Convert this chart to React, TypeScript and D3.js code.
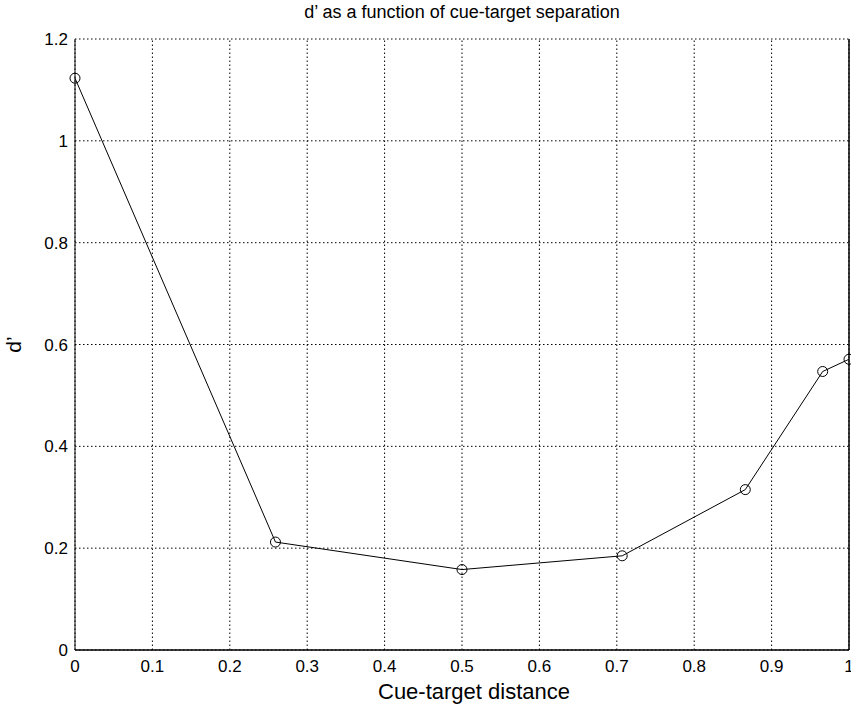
import React, { useEffect, useRef } from "react";
import * as d3 from "d3";

const xValues = [0, 0.259, 0.5, 0.707, 0.866, 0.966, 1];
const yValues = [1.123, 0.212, 0.158, 0.185, 0.315, 0.547, 0.571];
const xTicks = [0, 0.1, 0.2, 0.3, 0.4, 0.5, 0.6, 0.7, 0.8, 0.9, 1];
const yTicks = [0, 0.2, 0.4, 0.6, 0.8, 1, 1.2];
const titleText = "d\u2019 as a function of cue-target separation";
const xLabelText = "Cue-target distance";
const yLabelText = "d\u2019";

export default function App() {
  const ref = useRef<SVGSVGElement>(null);
  useEffect(() => {
    const svg = d3.select(ref.current);
    svg.selectAll("*").remove();
    const W = 851, H = 708;
    const m = { left: 75, right: 2, top: 39, bottom: 58 };
    const x = d3.scaleLinear().domain([0, 1]).range([m.left, W - m.right]);
    const y = d3.scaleLinear().domain([0, 1.2]).range([H - m.bottom, m.top]);
    const font = "'Liberation Sans', Arial, Helvetica, sans-serif";

    svg.append("rect").attr("width", W).attr("height", H).attr("fill", "#fff");

    const g = svg.append("g");
    // grid
    g.selectAll(".vg").data(xTicks).join("line")
      .attr("x1", d => x(d)).attr("x2", d => x(d))
      .attr("y1", y(0)).attr("y2", y(1.2))
      .attr("stroke", "#000").attr("stroke-width", 1)
      .attr("stroke-dasharray", "1.5,2.5");
    g.selectAll(".hg").data(yTicks).join("line")
      .attr("y1", d => y(d)).attr("y2", d => y(d))
      .attr("x1", x(0)).attr("x2", x(1))
      .attr("stroke", "#000").attr("stroke-width", 1)
      .attr("stroke-dasharray", "1.5,2.5");

    // axes box
    g.append("line").attr("x1", x(0)).attr("x2", x(1)).attr("y1", y(0)).attr("y2", y(0))
      .attr("stroke", "#000").attr("stroke-width", 1.5);
    g.append("line").attr("x1", x(0)).attr("x2", x(0)).attr("y1", y(0)).attr("y2", y(1.2))
      .attr("stroke", "#000").attr("stroke-width", 1);
    g.append("line").attr("x1", x(1)).attr("x2", x(1)).attr("y1", y(0)).attr("y2", y(1.2))
      .attr("stroke", "#000").attr("stroke-width", 1.5);

    // tick labels
    g.selectAll(".xt").data(xTicks).join("text")
      .attr("x", d => x(d)).attr("y", y(0) + 22)
      .attr("text-anchor", "middle")
      .attr("font-family", font).attr("font-size", 17)
      .text(d => d3.format("")(d));
    g.selectAll(".yt").data(yTicks).join("text")
      .attr("x", x(0) - 7).attr("y", d => y(d) + 6)
      .attr("text-anchor", "end")
      .attr("font-family", font).attr("font-size", 17)
      .text(d => d3.format("")(d));

    // line and markers
    const data = xValues.map((v, i) => [v, yValues[i]] as [number, number]);
    const line = d3.line<[number, number]>().x(d => x(d[0])).y(d => y(d[1]));
    g.append("path").datum(data).attr("d", line)
      .attr("fill", "none").attr("stroke", "#000").attr("stroke-width", 1);
    g.selectAll(".pt").data(data).join("circle")
      .attr("cx", d => x(d[0])).attr("cy", d => y(d[1])).attr("r", 5)
      .attr("fill", "none").attr("stroke", "#000").attr("stroke-width", 1);

    // labels
    svg.append("text").attr("x", (x(0) + x(1)) / 2).attr("y", 18)
      .attr("text-anchor", "middle").attr("font-family", font).attr("font-size", 18)
      .text(titleText);
    svg.append("text").attr("x", (x(0) + x(1)) / 2 + 12).attr("y", 699)
      .attr("text-anchor", "middle").attr("font-family", font).attr("font-size", 22)
      .text(xLabelText);
    svg.append("text").attr("transform", `translate(21,${y(0.6)}) rotate(-90)`)
      .attr("text-anchor", "middle").attr("font-family", font).attr("font-size", 21)
      .text(yLabelText);
  }, []);
  return (
    <svg ref={ref} width={851} height={708}
      style={{ position: "absolute", left: 0, top: 0, display: "block" }} />
  );
}
